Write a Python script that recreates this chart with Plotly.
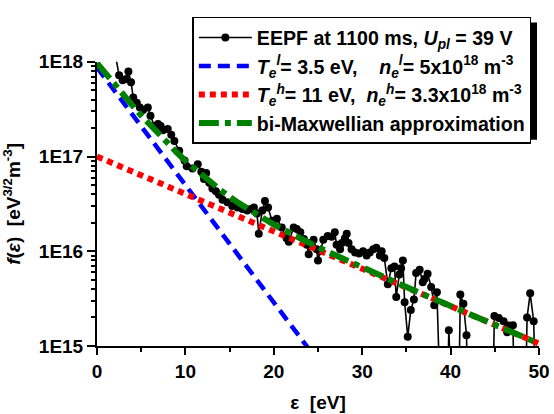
import plotly.graph_objects as go

# EEPF data
eps = [2.0, 2.5, 2.9, 3.3, 3.55, 3.85, 4.1, 4.5, 4.85, 5.2,
       5.75, 6.05, 6.5, 6.9, 7.2, 7.45, 8.0, 8.4, 8.75, 9.3,
       9.9, 10.15, 10.8, 11.4, 11.8, 12.1, 12.35, 12.7, 13.05, 13.45,
       13.8, 14.2, 14.75, 15.3, 15.9, 16.45, 17.0, 17.4, 17.75, 18.1,
       18.3, 18.7, 19.0, 19.35, 19.8, 20.35, 20.9, 21.45, 21.7, 22.25,
       22.6, 23.0, 23.4, 23.75, 23.95, 24.15, 24.5, 24.85, 25.0, 25.25,
       25.6, 26.1, 26.55, 26.9, 27.1, 27.5, 27.7, 28.05, 28.25, 28.45,
       28.8, 29.2, 29.65, 30.1, 30.5, 30.85, 31.25, 31.6, 32.0, 32.2,
       32.5, 32.9, 33.3, 33.65, 33.85, 34.2, 34.4, 34.6, 34.8, 35.15,
       35.5, 35.85, 36.1, 36.5, 36.85, 37.05, 37.4, 37.8, 38.15, 38.45,
       38.85, 39.3, 39.8, 40.25, 40.7, 41.1, 41.45, 41.8, 42.2, 43.4,
       44.5, 44.95, 45.45, 46.0, 46.4, 46.6, 47.05, 47.5, 48.2, 48.65,
       49.0, 49.4, 49.95]
eepf = [1.3e18, 7.2e17, 6.4e17, 6.6e17, 7.9e17, 6.1e17, 4.2e17, 3.7e17, 3.3e17, 3.1e17,
        3.3e17, 2.7e17, 2.1e17, 2.2e17, 2.1e17, 1.9e17, 1.95e17, 1.7e17, 1.46e17, 1.15e17,
        9.1e16, 7.9e16, 7.5e16, 8.3e16, 6.9e16, 5.8e16, 6.7e16, 5.3e16, 4.6e16, 4.3e16,
        3.95e16, 3.5e16, 3.3e16, 3.0e16, 2.9e16, 2.8e16, 2.7e16, 2.8e16, 2.9e16, 2.5e16,
        1.53e16, 2.7e16, 3.4e16, 2.9e16, 2.1e16, 2.2e16, 1.78e16, 1.37e16, 1.26e16, 1.78e16,
        1.72e16, 1.59e16, 1.35e16, 1.17e16, 9.3e15, 1.22e16, 1.32e16, 1.05e16, 8.0e15, 1.0e16,
        1.32e16, 1.45e16, 1.42e16, 1.59e16, 1.17e16, 1.05e16, 1.22e16, 1.37e16, 1.53e16, 1.22e16,
        1.05e16, 9.7e15, 9.5e15, 1.0e16, 9.0e15, 9.7e15, 1.05e16, 1.09e16, 9.0e15, 1.0e16,
        8.5e15, 4.5e15, 6.6e15, 6.9e15, 3.3e15, 5.7e15, 6.6e15, 8.0e15, 2.9e15, 1.25e15,
        2.4e15, 3.1e15, 5.9e15, 6.4e15, 4.7e15, 5.1e15, 5.8e15, 4.2e15, 2.7e15, 3.7e15,
        1e13, 1e13, 1.47e15, 1e13, 1e13, 3.5e15, 2.8e15, 1.3e15, 1e13, 1e13,
        1e13, 2.07e15, 1.97e15, 1.82e15, 1.4e15, 1.65e15, 1.66e15, 1e13, 1e13, 2.0e15,
        3.6e15, 1.82e15, 1e13]

# low-temperature Maxwellian (straight on log axis)
low_x = [0, 50]
low_y = [8.7e17, 5.5e11]
# high-temperature Maxwellian
high_x = [0, 50]
high_y = [1.0e17, 1.06e15]
# bi-Maxwellian approximation
bi_x = [0, 1, 2, 3, 4, 5, 6, 7, 8, 9, 10, 12, 14, 16, 18, 20, 25, 30, 35, 40, 45, 50]
bi_y = [9.7e17, 7.4e17, 5.75e17, 4.5e17, 3.47e17, 2.72e17, 2.15e17, 1.72e17, 1.37e17,
        1.11e17, 9.03e16, 6.18e16, 4.4e16, 3.24e16, 2.46e16, 1.91e16, 1.10e16,
        6.71e15, 4.19e15, 2.64e15, 1.67e15, 1.06e15]

y_tickvals = [1e15, 1e16, 1e17, 1e18]
y_ticktext = ["1E15", "1E16", "1E17", "1E18"]
x_tickvals = [0, 10, 20, 30, 40, 50]

NB = "\u00a0"
FONT = "Liberation Sans, Arial, sans-serif"
W, H = 554, 414
# plot area spans the legend region too; the y axis domain keeps the axis at 55..358 px
ML, MR, MT, MB = 97, 12, 4, 56
AXIS_TOP = 55
PH = H - MT - MB  # plot-area height in px

fig = go.Figure()
fig.add_trace(go.Scatter(
    x=eps, y=eepf, mode="lines+markers",
    name="EEPF at 1100 ms, <i>U</i><sub><i>pl</i></sub> = 39 V",
    line=dict(color="black", width=1.6),
    marker=dict(color="black", size=8, symbol="circle"),
))
fig.add_trace(go.Scatter(
    x=low_x, y=low_y, mode="lines",
    name=("<i>T</i><sub><i>e</i></sub><sup><i>l</i></sup>= 3.5 eV," + NB * 4 +
          "<i>n</i><sub><i>e</i></sub><sup><i>l</i></sup>= 5x10<sup>18</sup> m<sup>-3</sup>"),
    line=dict(color="#0000ff", width=4.5, dash="12px,7px"),
))
fig.add_trace(go.Scatter(
    x=high_x, y=high_y, mode="lines",
    name=("<i>T</i><sub><i>e</i></sub><sup><i>h</i></sup>= 11 eV," + NB * 2 +
          "<i>n</i><sub><i>e</i></sub><sup><i>h</i></sup>= 3.3x10<sup>18</sup> m<sup>-3</sup>"),
    line=dict(color="#ff0000", width=6, dash="6px,5px"),
))
fig.add_trace(go.Scatter(
    x=bi_x, y=bi_y, mode="lines",
    name="bi-Maxwellian approximation",
    line=dict(color="#008000", width=6, dash="20px,6px,6px,6px"),
))

# pixel -> paper helpers (paper = full plot area)
def px2paper_x(px):
    return (px - ML) / float(W - ML - MR)

def px2paper_y(py):
    return (H - MB - py) / float(PH)

# legend drop shadow (legend is drawn on top, only the offset edges show)
fig.add_shape(type="rect", xref="paper", yref="paper",
              x0=px2paper_x(199), x1=px2paper_x(540),
              y0=px2paper_y(138), y1=px2paper_y(13),
              fillcolor="black", line=dict(width=0), layer="above")

fig.update_layout(
    width=W, height=H,
    margin=dict(l=ML, r=MR, t=MT, b=MB),
    paper_bgcolor="white", plot_bgcolor="white",
    font=dict(family=FONT, size=18, color="black", weight="bold"),
    showlegend=True,
    legend=dict(
        x=px2paper_x(193), y=px2paper_y(7), xanchor="left", yanchor="top",
        bgcolor="white", bordercolor="black", borderwidth=1.5,
        font=dict(family=FONT, size=19.6, color="black", weight="bold"),
        itemwidth=53,
    ),
    xaxis=dict(
        range=[0, 50], tickvals=x_tickvals, showgrid=False, zeroline=False,
        showline=True, linecolor="black", linewidth=2,
        ticks="outside", ticklen=7, tickwidth=2, tickcolor="black",
        tickfont=dict(family=FONT, size=19, weight="bold"),
        minor=dict(tickvals=[5, 15, 25, 35, 45], ticks="outside", ticklen=4,
                   tickwidth=2, tickcolor="black", showgrid=False),
        title=dict(text="ε  [eV]", font=dict(family=FONT, size=19, weight="bold")),
    ),
    yaxis=dict(
        type="log", range=[15, 18], tickvals=y_tickvals, ticktext=y_ticktext,
        domain=[0, (H - MB - AXIS_TOP) / float(PH)],
        showgrid=False, zeroline=False,
        showline=True, linecolor="black", linewidth=2,
        ticks="outside", ticklen=8, tickwidth=2, tickcolor="black",
        tickfont=dict(family=FONT, size=19, weight="bold"),
        minor=dict(tickvals=[m * 10 ** e for e in (15, 16, 17) for m in range(2, 10)],
                   ticks="outside", ticklen=4, tickwidth=2, tickcolor="black", showgrid=False),
        title=dict(text="<i>f</i>(<i>ε</i>)  [eV<sup>3/2</sup>m<sup>-3</sup>]",
                   font=dict(family=FONT, size=19, weight="bold")),
    ),
)

fig.write_html("out.html")
